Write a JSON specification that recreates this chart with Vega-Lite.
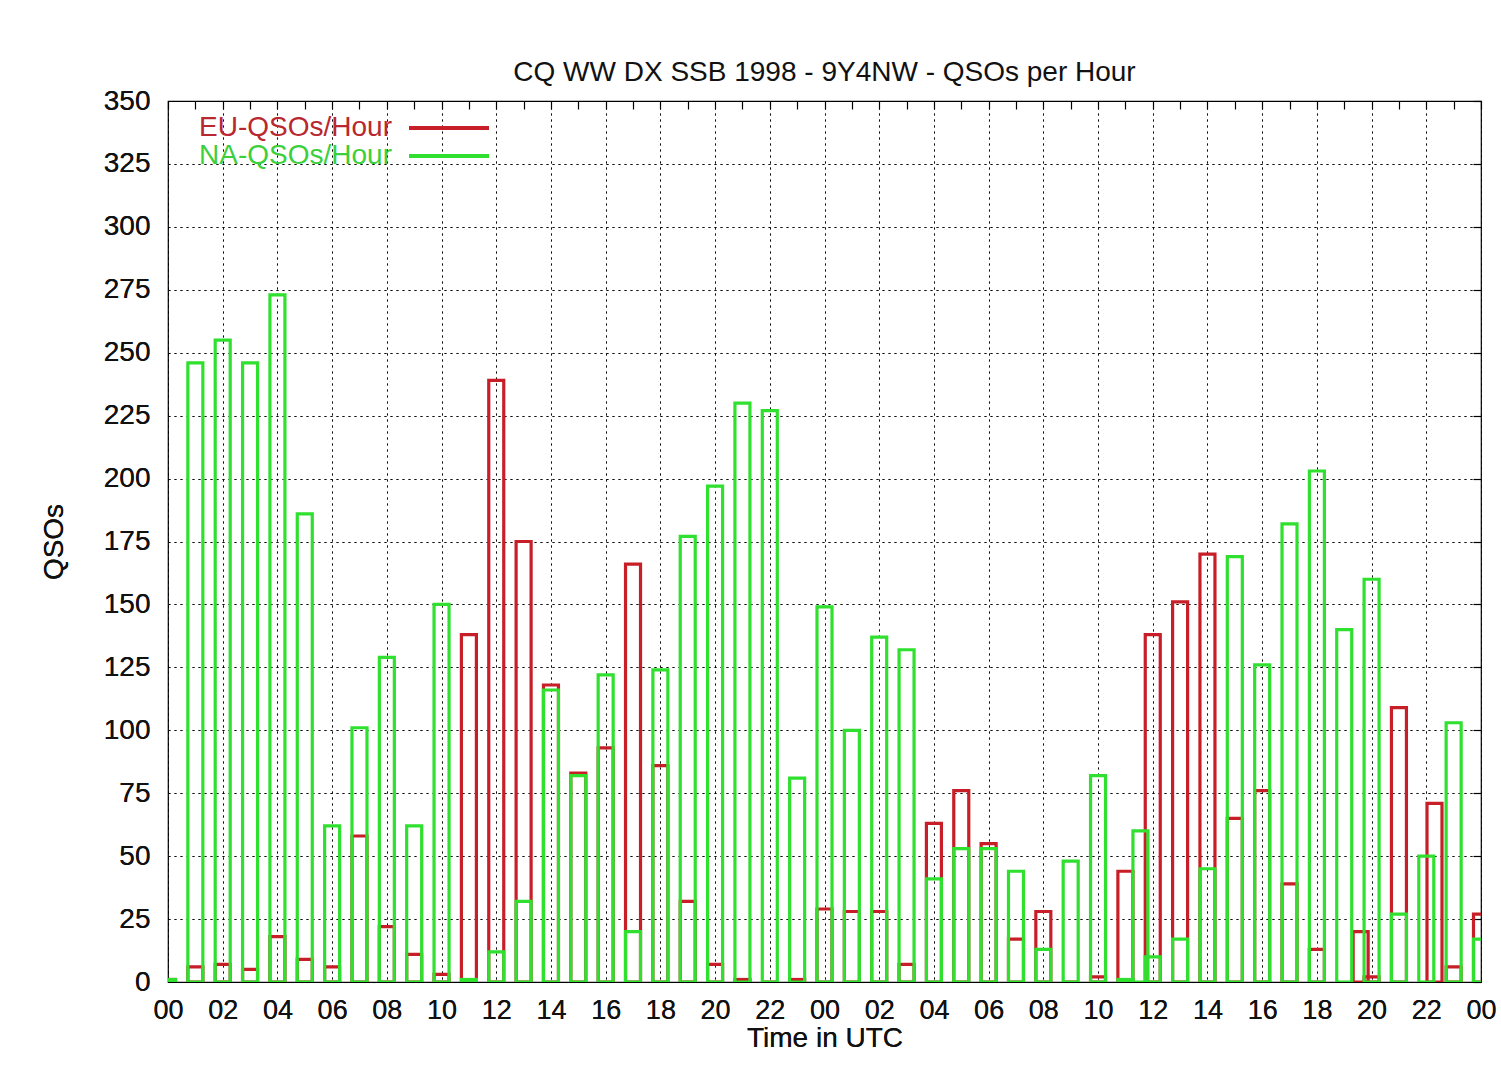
{
  "$schema": "https://vega.github.io/schema/vega-lite/v6.json",
  "width": 1313,
  "height": 881,
  "autosize": {"type": "none"},
  "padding": {"left": 168, "top": 101, "right": 20, "bottom": 94},
  "background": "#ffffff",
  "config": {
    "font": "Liberation Sans",
    "view": {"stroke": "#000000", "strokeWidth": 1.2},
    "scale": {"continuousPadding": 0},
    "axis": {"labelFont": "Liberation Sans", "titleFont": "Liberation Sans", "labelColor": "#111", "titleColor": "#111", "titleFontWeight": "normal"},
    "legend": {"labelFont": "Liberation Sans", "labelLimit": 0, "padding": 0}
  },
  "title": {"text": "CQ WW DX SSB 1998 - 9Y4NW - QSOs per Hour", "fontSize": 28, "fontWeight": "normal", "color": "#111", "offset": -1, "font": "Liberation Sans"},
  "data": {"values": [
    {"hour": 0, "series": "EU-QSOs/Hour", "qsos": 1},
    {"hour": 1, "series": "EU-QSOs/Hour", "qsos": 6},
    {"hour": 2, "series": "EU-QSOs/Hour", "qsos": 7},
    {"hour": 3, "series": "EU-QSOs/Hour", "qsos": 5},
    {"hour": 4, "series": "EU-QSOs/Hour", "qsos": 18},
    {"hour": 5, "series": "EU-QSOs/Hour", "qsos": 9},
    {"hour": 6, "series": "EU-QSOs/Hour", "qsos": 6},
    {"hour": 7, "series": "EU-QSOs/Hour", "qsos": 58},
    {"hour": 8, "series": "EU-QSOs/Hour", "qsos": 22},
    {"hour": 9, "series": "EU-QSOs/Hour", "qsos": 11},
    {"hour": 10, "series": "EU-QSOs/Hour", "qsos": 3},
    {"hour": 11, "series": "EU-QSOs/Hour", "qsos": 138},
    {"hour": 12, "series": "EU-QSOs/Hour", "qsos": 239},
    {"hour": 13, "series": "EU-QSOs/Hour", "qsos": 175},
    {"hour": 14, "series": "EU-QSOs/Hour", "qsos": 118},
    {"hour": 15, "series": "EU-QSOs/Hour", "qsos": 83},
    {"hour": 16, "series": "EU-QSOs/Hour", "qsos": 93},
    {"hour": 17, "series": "EU-QSOs/Hour", "qsos": 166},
    {"hour": 18, "series": "EU-QSOs/Hour", "qsos": 86},
    {"hour": 19, "series": "EU-QSOs/Hour", "qsos": 32},
    {"hour": 20, "series": "EU-QSOs/Hour", "qsos": 7},
    {"hour": 21, "series": "EU-QSOs/Hour", "qsos": 1},
    {"hour": 22, "series": "EU-QSOs/Hour", "qsos": 0},
    {"hour": 23, "series": "EU-QSOs/Hour", "qsos": 1},
    {"hour": 24, "series": "EU-QSOs/Hour", "qsos": 29},
    {"hour": 25, "series": "EU-QSOs/Hour", "qsos": 28},
    {"hour": 26, "series": "EU-QSOs/Hour", "qsos": 28},
    {"hour": 27, "series": "EU-QSOs/Hour", "qsos": 7},
    {"hour": 28, "series": "EU-QSOs/Hour", "qsos": 63},
    {"hour": 29, "series": "EU-QSOs/Hour", "qsos": 76},
    {"hour": 30, "series": "EU-QSOs/Hour", "qsos": 55},
    {"hour": 31, "series": "EU-QSOs/Hour", "qsos": 17},
    {"hour": 32, "series": "EU-QSOs/Hour", "qsos": 28},
    {"hour": 33, "series": "EU-QSOs/Hour", "qsos": 0},
    {"hour": 34, "series": "EU-QSOs/Hour", "qsos": 2},
    {"hour": 35, "series": "EU-QSOs/Hour", "qsos": 44},
    {"hour": 36, "series": "EU-QSOs/Hour", "qsos": 138},
    {"hour": 37, "series": "EU-QSOs/Hour", "qsos": 151},
    {"hour": 38, "series": "EU-QSOs/Hour", "qsos": 170},
    {"hour": 39, "series": "EU-QSOs/Hour", "qsos": 65},
    {"hour": 40, "series": "EU-QSOs/Hour", "qsos": 76},
    {"hour": 41, "series": "EU-QSOs/Hour", "qsos": 39},
    {"hour": 42, "series": "EU-QSOs/Hour", "qsos": 13},
    {"hour": 43.6, "series": "EU-QSOs/Hour", "qsos": 20},
    {"hour": 44, "series": "EU-QSOs/Hour", "qsos": 2},
    {"hour": 45, "series": "EU-QSOs/Hour", "qsos": 109},
    {"hour": 46.3, "series": "EU-QSOs/Hour", "qsos": 71},
    {"hour": 47, "series": "EU-QSOs/Hour", "qsos": 6},
    {"hour": 48, "series": "EU-QSOs/Hour", "qsos": 27},
    {"hour": 0, "series": "NA-QSOs/Hour", "qsos": 1},
    {"hour": 1, "series": "NA-QSOs/Hour", "qsos": 246},
    {"hour": 2, "series": "NA-QSOs/Hour", "qsos": 255},
    {"hour": 3, "series": "NA-QSOs/Hour", "qsos": 246},
    {"hour": 4, "series": "NA-QSOs/Hour", "qsos": 273},
    {"hour": 5, "series": "NA-QSOs/Hour", "qsos": 186},
    {"hour": 6, "series": "NA-QSOs/Hour", "qsos": 62},
    {"hour": 7, "series": "NA-QSOs/Hour", "qsos": 101},
    {"hour": 8, "series": "NA-QSOs/Hour", "qsos": 129},
    {"hour": 9, "series": "NA-QSOs/Hour", "qsos": 62},
    {"hour": 10, "series": "NA-QSOs/Hour", "qsos": 150},
    {"hour": 11, "series": "NA-QSOs/Hour", "qsos": 1},
    {"hour": 12, "series": "NA-QSOs/Hour", "qsos": 12},
    {"hour": 13, "series": "NA-QSOs/Hour", "qsos": 32},
    {"hour": 14, "series": "NA-QSOs/Hour", "qsos": 116},
    {"hour": 15, "series": "NA-QSOs/Hour", "qsos": 82},
    {"hour": 16, "series": "NA-QSOs/Hour", "qsos": 122},
    {"hour": 17, "series": "NA-QSOs/Hour", "qsos": 20},
    {"hour": 18, "series": "NA-QSOs/Hour", "qsos": 124},
    {"hour": 19, "series": "NA-QSOs/Hour", "qsos": 177},
    {"hour": 20, "series": "NA-QSOs/Hour", "qsos": 197},
    {"hour": 21, "series": "NA-QSOs/Hour", "qsos": 230},
    {"hour": 22, "series": "NA-QSOs/Hour", "qsos": 227},
    {"hour": 23, "series": "NA-QSOs/Hour", "qsos": 81},
    {"hour": 24, "series": "NA-QSOs/Hour", "qsos": 149},
    {"hour": 25, "series": "NA-QSOs/Hour", "qsos": 100},
    {"hour": 26, "series": "NA-QSOs/Hour", "qsos": 137},
    {"hour": 27, "series": "NA-QSOs/Hour", "qsos": 132},
    {"hour": 28, "series": "NA-QSOs/Hour", "qsos": 41},
    {"hour": 29, "series": "NA-QSOs/Hour", "qsos": 53},
    {"hour": 30, "series": "NA-QSOs/Hour", "qsos": 53},
    {"hour": 31, "series": "NA-QSOs/Hour", "qsos": 44},
    {"hour": 32, "series": "NA-QSOs/Hour", "qsos": 13},
    {"hour": 33, "series": "NA-QSOs/Hour", "qsos": 48},
    {"hour": 34, "series": "NA-QSOs/Hour", "qsos": 82},
    {"hour": 35, "series": "NA-QSOs/Hour", "qsos": 1},
    {"hour": 35.55, "series": "NA-QSOs/Hour", "qsos": 60},
    {"hour": 36, "series": "NA-QSOs/Hour", "qsos": 10},
    {"hour": 37, "series": "NA-QSOs/Hour", "qsos": 17},
    {"hour": 38, "series": "NA-QSOs/Hour", "qsos": 45},
    {"hour": 39, "series": "NA-QSOs/Hour", "qsos": 169},
    {"hour": 40, "series": "NA-QSOs/Hour", "qsos": 126},
    {"hour": 41, "series": "NA-QSOs/Hour", "qsos": 182},
    {"hour": 42, "series": "NA-QSOs/Hour", "qsos": 203},
    {"hour": 43, "series": "NA-QSOs/Hour", "qsos": 140},
    {"hour": 44, "series": "NA-QSOs/Hour", "qsos": 160},
    {"hour": 45, "series": "NA-QSOs/Hour", "qsos": 27},
    {"hour": 46, "series": "NA-QSOs/Hour", "qsos": 50},
    {"hour": 47, "series": "NA-QSOs/Hour", "qsos": 103},
    {"hour": 48, "series": "NA-QSOs/Hour", "qsos": 17}
  ]},
  "layer": [
    {
      "transform": [{"filter": "datum.series == 'EU-QSOs/Hour'"}],
      "mark": {"type": "bar", "filled": false, "strokeWidth": 3.2, "size": 15, "clip": true},
      "encoding": {
        "x": {
          "field": "hour", "type": "quantitative",
          "scale": {"domain": [0, 48], "nice": false, "zero": false, "padding": 0},
          "axis": {
            "orient": "bottom", "title": "Time in UTC", "titleFontSize": 28, "titlePadding": 1,
            "values": [0, 2, 4, 6, 8, 10, 12, 14, 16, 18, 20, 22, 24, 26, 28, 30, 32, 34, 36, 38, 40, 42, 44, 46, 48],
            "labelExpr": "(datum.value % 24 < 10 ? '0' : '') + (datum.value % 24)",
            "labelFontSize": 27, "labelPadding": 15, "labelFlush": false, "labelOverlap": false,
            "domain": false, "ticks": false,
            "grid": true, "gridColor": "#000000", "gridDash": [2, 4], "gridOpacity": 0.8, "gridWidth": 1
          }
        },
        "y": {
          "field": "qsos", "type": "quantitative", "stack": null,
          "scale": {"domain": [0, 350], "nice": false, "padding": 0},
          "axis": {
            "orient": "left", "title": "QSOs", "titleFontSize": 28, "titlePadding": 35,
            "values": [0, 25, 50, 75, 100, 125, 150, 175, 200, 225, 250, 275, 300, 325, 350],
            "labelFontSize": 28, "labelPadding": 18, "labelFlush": false, "labelOverlap": false,
            "domain": false, "ticks": false,
            "grid": true, "gridColor": "#000000", "gridDash": [2, 4], "gridOpacity": 0.8, "gridWidth": 1
          }
        },
        "stroke": {
          "field": "series", "type": "nominal",
          "scale": {"domain": ["EU-QSOs/Hour"], "range": ["#c81e28"]},
          "legend": {
            "title": null, "orient": "none", "legendX": 239, "legendY": -15,
            "symbolType": "stroke", "symbolSize": 6400, "symbolStrokeWidth": 4,
            "labelFontSize": 28, "labelColor": "#b8282e", "labelAlign": "right", "labelOffset": -99
          }
        }
      }
    },
    {
      "transform": [{"filter": "datum.series == 'NA-QSOs/Hour'"}],
      "mark": {"type": "bar", "filled": false, "strokeWidth": 3.2, "size": 15, "clip": true},
      "encoding": {
        "x": {
          "field": "hour", "type": "quantitative",
          "scale": {"domain": [0, 48], "nice": false, "zero": false, "padding": 0},
          "axis": {
            "orient": "bottom", "title": "Time in UTC", "titleFontSize": 28, "titlePadding": 1,
            "values": [0, 2, 4, 6, 8, 10, 12, 14, 16, 18, 20, 22, 24, 26, 28, 30, 32, 34, 36, 38, 40, 42, 44, 46, 48],
            "labelExpr": "(datum.value % 24 < 10 ? '0' : '') + (datum.value % 24)",
            "labelFontSize": 27, "labelPadding": 15, "labelFlush": false, "labelOverlap": false,
            "domain": false, "ticks": false,
            "grid": true, "gridColor": "#000000", "gridDash": [2, 4], "gridOpacity": 0.8, "gridWidth": 1
          }
        },
        "y": {
          "field": "qsos", "type": "quantitative", "stack": null,
          "scale": {"domain": [0, 350], "nice": false, "padding": 0},
          "axis": {
            "orient": "left", "title": "QSOs", "titleFontSize": 28, "titlePadding": 35,
            "values": [0, 25, 50, 75, 100, 125, 150, 175, 200, 225, 250, 275, 300, 325, 350],
            "labelFontSize": 28, "labelPadding": 18, "labelFlush": false, "labelOverlap": false,
            "domain": false, "ticks": false,
            "grid": true, "gridColor": "#000000", "gridDash": [2, 4], "gridOpacity": 0.8, "gridWidth": 1
          }
        },
        "stroke": {
          "field": "series", "type": "nominal",
          "scale": {"domain": ["NA-QSOs/Hour"], "range": ["#2fe02f"]},
          "legend": {
            "title": null, "orient": "none", "legendX": 239, "legendY": 13,
            "symbolType": "stroke", "symbolSize": 6400, "symbolStrokeWidth": 4,
            "labelFontSize": 28, "labelColor": "#3ccf3c", "labelAlign": "right", "labelOffset": -99
          }
        }
      }
    },
    {
      "mark": {"type": "rule", "opacity": 0},
      "encoding": {
        "x": {
          "field": "hour", "type": "quantitative",
          "axis": {
            "orient": "top", "title": null, "labels": false, "domain": false, "grid": false,
            "values": [0,1,2,3,4,5,6,7,8,9,10,11,12,13,14,15,16,17,18,19,20,21,22,23,24,25,26,27,28,29,30,31,32,33,34,35,36,37,38,39,40,41,42,43,44,45,46,47,48],
            "ticks": true, "tickSize": -8, "tickColor": "#000", "tickWidth": 1.2
          }
        },
        "y": {
          "field": "qsos", "type": "quantitative", "stack": null,
          "axis": {
            "orient": "right", "title": null, "labels": false, "domain": false, "grid": false,
            "values": [0, 25, 50, 75, 100, 125, 150, 175, 200, 225, 250, 275, 300, 325, 350],
            "ticks": true, "tickSize": -8, "tickColor": "#000", "tickWidth": 1.2
          }
        }
      }
    }
  ],
  "resolve": {"scale": {"stroke": "independent"}, "legend": {"stroke": "independent"}}
}
